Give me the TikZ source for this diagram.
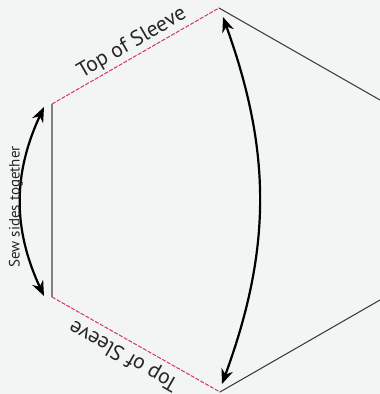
\documentclass[tikz,border=0pt]{standalone}
\usepackage{fontspec}
\setmainfont{PT Sans}
\usepackage{xcolor}
\usetikzlibrary{arrows.meta}
\definecolor{bggray}{RGB}{243,244,244}
\definecolor{seamred}{RGB}{214,52,104}

\begin{document}
\begin{tikzpicture}[x=1pt, y=1pt,
  seam/.style={seamred, line width=1pt, dash pattern=on 4pt off 1.5pt},
  side/.style={gray, line width=1.4pt},
  edge/.style={black!80, line width=1pt},
  arr/.style={{Stealth[length=15pt,width=12pt]}-{Stealth[length=15pt,width=12pt]}, line width=2.2pt, black},
  lbl/.style={font=\fontsize{21.5}{21.5}\selectfont, text=black!85, inner sep=0pt},
  sewlbl/.style={font=\fontsize{15}{15}\selectfont, text=black!85, inner sep=0pt}
]
\fill[bggray] (0,0) rectangle (380,394);
\useasboundingbox (0,0) rectangle (380,394);

% corners of the sleeve piece
\coordinate (TL) at (52,290);
\coordinate (BL) at (52,97);
\coordinate (TA) at (219,386);
\coordinate (BA) at (220,2);
\coordinate (TR) at (380,294);
\coordinate (BR) at (380,94);

% arrow ends
\coordinate (s1) at (44,98);
\coordinate (s2) at (44,287);
\coordinate (c1) at (222,10);
\coordinate (c2) at (223,377);

\draw[side] (TL) -- (BL);
\draw[seam] (TL) -- (TA);
\draw[seam] (BL) -- (BA);
\draw[edge] (TA) -- (TR);
\draw[edge] (BA) -- (BR);

\draw[arr] (s1) to[bend left=25] (s2);
\draw[arr] (c1) to[bend right=20] (c2);

\node[lbl, rotate=30]  (top) at (132,351) {Top of Sleeve};
\node[lbl, rotate=150] (bot) at (124,39)  {Top of Sleeve};
\node[sewlbl, rotate=90] (sew) at (16,187) {Sew sides together};
\end{tikzpicture}
\end{document}
